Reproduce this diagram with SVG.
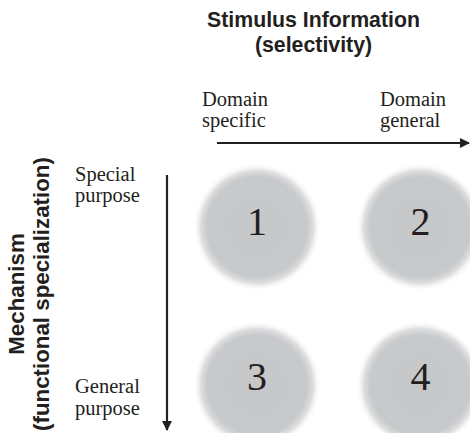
<svg xmlns="http://www.w3.org/2000/svg" width="470" height="433" viewBox="0 0 470 433">
<defs>
<radialGradient id="g">
<stop offset="0" stop-color="#c6c7c9"/>
<stop offset="0.78" stop-color="#c8c9cb"/>
<stop offset="0.88" stop-color="#dddee0"/>
<stop offset="1" stop-color="#ffffff" stop-opacity="0"/>
</radialGradient>
<marker id="ah" markerWidth="12" markerHeight="12" refX="9" refY="6" orient="auto" markerUnits="userSpaceOnUse">
<path d="M0,1 L10,6 L0,11 Z" fill="#231f20"/>
</marker>
</defs>
<style>
.h{font-family:"Liberation Sans",Arial,sans-serif;font-weight:bold;font-size:21.3px;fill:#231f20;text-anchor:middle}
.v{font-size:22.3px}
.s{font-family:"Liberation Serif","Times New Roman",serif;font-size:20.5px;fill:#231f20}
.n{font-family:"Liberation Serif","Times New Roman",serif;font-size:40px;fill:#231f20;text-anchor:middle}
.ax{stroke:#231f20;stroke-width:2.2;fill:none}
</style>
<rect width="470" height="433" fill="#fff"/>
<g id="title-top">
<text class="h" x="313.5" y="27">Stimulus Information</text>
<text class="h" x="313.5" y="52">(selectivity)</text>
</g>
<g id="title-left" transform="translate(0,294) rotate(-90)">
<text class="h v" x="0" y="24">Mechanism</text>
<text class="h v" x="0" y="49">(functional specialization)</text>
</g>
<g id="labels">
<text class="s" x="202" y="106">Domain</text>
<text class="s" x="202" y="127">specific</text>
<text class="s" x="380" y="106">Domain</text>
<text class="s" x="380" y="127">general</text>
<text class="s" x="75" y="181">Special</text>
<text class="s" x="75" y="202">purpose</text>
<text class="s" x="75" y="393">General</text>
<text class="s" x="75" y="415">purpose</text>
</g>
<g id="connectors">
<line class="ax" x1="217" y1="143" x2="469" y2="143" marker-end="url(#ah)"/>
<line class="ax" x1="167" y1="175" x2="167" y2="430" marker-end="url(#ah)"/>
</g>
<g id="node1"><circle cx="257" cy="227" r="64" fill="url(#g)"/><text class="n" x="257" y="235">1</text></g>
<g id="node2"><circle cx="420" cy="227" r="64" fill="url(#g)"/><text class="n" x="420.5" y="235">2</text></g>
<g id="node3"><circle cx="257" cy="385" r="64" fill="url(#g)"/><text class="n" x="257" y="390">3</text></g>
<g id="node4"><circle cx="420" cy="385" r="64" fill="url(#g)"/><text class="n" x="420.5" y="390">4</text></g>
</svg>
